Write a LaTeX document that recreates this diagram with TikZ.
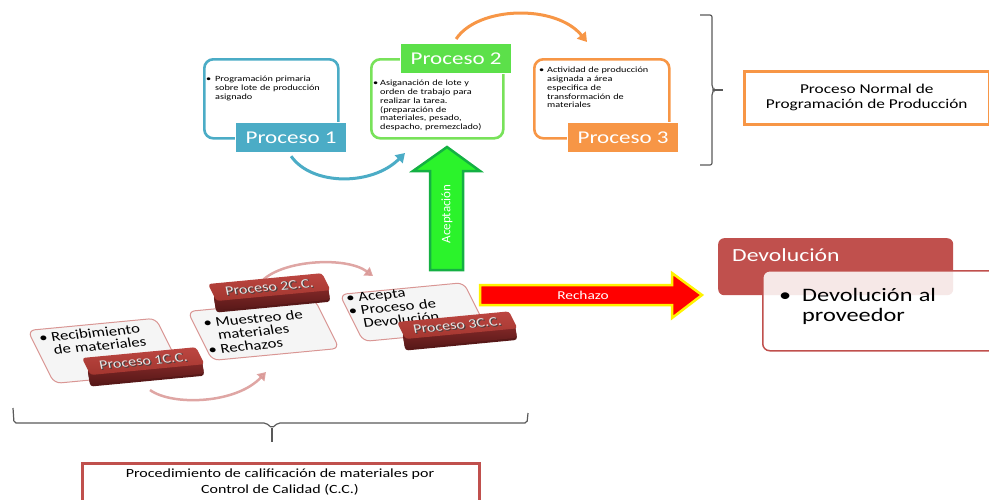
\documentclass[tikz,border=0pt]{standalone}
\usepackage{fontspec}
\setmainfont[FakeStretch=1.28]{Carlito}
\newfontfamily\plainfont{Carlito}
\usetikzlibrary{arrows.meta,calc}

\definecolor{pblue}{HTML}{4BACC6}
\definecolor{pgreen}{HTML}{5CE04A}
\definecolor{pgreenline}{HTML}{78E25A}
\definecolor{porange}{HTML}{F79646}
\definecolor{pred}{HTML}{C0504D}
\definecolor{ppink}{HTML}{D99694}
\definecolor{braceg}{HTML}{595959}
\definecolor{boxgray}{HTML}{F5F5F5}
\definecolor{accfill}{HTML}{2BF32B}
\definecolor{accline}{HTML}{14B043}
\definecolor{blocktop}{HTML}{BC4641}
\definecolor{blocktopb}{HTML}{A3362F}
\definecolor{blockfront}{HTML}{8A2B2A}
\definecolor{blockfrontb}{HTML}{571818}

% bullet paragraph with hanging indent (lines broken with \newline)
\newcommand\bitem[2]{\hangindent=#1\hangafter=1\noindent\makebox[#1][l]{\textbullet}#2\par}

\begin{document}
\begin{tikzpicture}[x=1pt,y=-1pt,
  stageframe/.style={draw, rounded corners=9pt, line width=2.6pt, anchor=north west, inner sep=0},
  stagelabel/.style={draw=white, line width=1.2pt, text=white, inner sep=0,
    minimum width=111pt, minimum height=30pt, anchor=north west,
    font=\fontsize{18}{18}\selectfont},
  smalltext/.style={anchor=north west, inner sep=0, text width=#1,
    font=\fontsize{8}{8.8}\selectfont},
  flow/.style={line width=3pt, -{Triangle[length=9pt,width=11pt]}},
  ccflow/.style={draw=ppink, line width=2.5pt, opacity=0.85, -{Triangle[length=8pt,width=10pt]}},
  ccbox/.style={draw=ppink, fill=boxgray, line width=1pt, rounded corners=7pt,
    anchor=north west, inner sep=0},
  cctext/.style={anchor=north west, inner sep=0, text width=#1,
    font=\fontsize{13}{12.8}\selectfont, xslant=0.3},
  blocktext/.style={inner sep=0, font=\fontsize{12.5}{12.5}\selectfont, xslant=0.3},
  bracepath/.style={draw=braceg, line width=1.2pt, rounded corners=2pt},
  titlebox/.style={draw, line width=2.5pt, inner sep=0, anchor=north west},
]
\useasboundingbox (0,0) rectangle (989,499);
\clip (0,0) rectangle (989,499);

% ---------- normal production process ----------
\node[stageframe, draw=pblue, minimum width=134pt, minimum height=79pt] (f1) at (203,58) {};
\node[smalltext=125pt] (t1) at (206,76)
  {\bitem{9pt}{Programación primaria\newline sobre lote de producción\newline asignado}};
\node[stagelabel, fill=pblue] (l1) at (235,122) {Proceso 1};

\node[stageframe, draw=pgreenline, minimum width=132pt, minimum height=79pt] (f2) at (370,58) {};
\node[smalltext=125pt] (t2) at (373,80)
  {\bitem{7pt}{Asiganación de lote y\newline orden de trabajo para\newline realizar la tarea.\newline (preparación de\newline materiales, pesado,\newline despacho, premezclado)}};
\node[stagelabel, fill=pgreen] (l2) at (400,43) {Proceso 2};

\node[stageframe, draw=porange, minimum width=135pt, minimum height=79pt] (f3) at (533,58) {};
\node[smalltext=125pt] (t3) at (539,67)
  {\bitem{8pt}{Actividad de producción\newline asignada a área\newline especifica de\newline transformación de\newline materiales}};
\node[stagelabel, fill=porange] (l3) at (567,122) {Proceso 3};

\coordinate (a12) at (405,153);
\coordinate (a23) at (587,42);
\draw[flow, draw=pblue] ($(l1.south)+(0,3)$) .. controls (312,186) and (372,186) .. (a12);
\draw[flow, draw=porange] ($(l2.north)+(0,-4)$) .. controls (478,6) and (556,4) .. (a23);

% right brace and its caption
\coordinate (bt) at (723,90);
\path[bracepath] (700,15) -- (712,15) -- (712,87) -- (714,90) -- (712,93) -- (712,165) -- (700,165);
\draw[draw=braceg, line width=1.2pt] (714,90) -- (bt);
\node[titlebox, draw=porange, minimum width=245pt, minimum height=53pt] (normal) at (743,70) {};
\node[align=center, inner sep=0, font=\fontsize{13.5}{15}\selectfont] (normalt) at (normal.center)
  {Proceso Normal de\\Programación de Producción};

% ---------- acceptance / rejection ----------
\path[fill=accfill, draw=accline, line width=2.5pt, line join=miter]
  (447,147) -- (480,171) -- (463,171) -- (463,270) -- (430,270) -- (430,171) -- (413,171) -- cycle;
\node[rotate=90, text=white, inner sep=0, font=\plainfont\fontsize{13}{13}\selectfont] (acc) at (447,214) {Aceptación};

\path[fill=red, draw=yellow, line width=2.5pt, line join=miter]
  (480,285) -- (672,285) -- (672,273) -- (702,295) -- (672,318) -- (672,305) -- (480,305) -- cycle;
\node[text=white, inner sep=0, font=\fontsize{12}{12}\selectfont] (rej) at (583,295) {Rechazo};

% return to supplier
\node[fill=pred, rounded corners=6pt, anchor=north west, minimum width=235pt, minimum height=57pt, inner sep=0] (dev) at (718,238) {};
\node[anchor=west, text=white, inner sep=0, font=\fontsize{18.5}{18.5}\selectfont] (devt) at (732,255) {Devolución};
\node[draw=pred, fill=white, fill opacity=0.87, line width=1.5pt, rounded corners=7pt, anchor=north west,
  minimum width=240pt, minimum height=80pt, inner sep=0] (devb) at (762,270) {};
\node[smalltext=200pt, font=\fontsize{19}{20}\selectfont] (devbt) at (779,288)
  {\bitem{23pt}{Devolución al\newline proveedor}};

% ---------- quality control steps ----------
\coordinate (c12s) at (150,390);
\coordinate (c12e) at (266,372);
\coordinate (c23s) at (262,281);
\coordinate (c23e) at (373,276);
\draw[ccflow] (c12s) .. controls (172,406) and (236,404) .. (c12e);
\draw[ccflow] (c23s) .. controls (282,260) and (346,256) .. (c23e);

\begin{scope}[cm={1,0.095,-0.5,1,(27,330)}, transform shape]
  \node[ccbox, minimum width=128pt, minimum height=53pt] (c1) at (0,0) {};
  \node[cctext=110pt] (c1t) at (9,4) {\bitem{12pt}{Recibimiento\newline de materiales}};
\end{scope}
\begin{scope}[cm={1,0.095,-0.5,1,(82,358)}, transform shape]
  \fill[blockfrontb, rounded corners=3pt] (0,11) -- (114,11) -- (108.3,28) -- (-5.7,28) -- cycle;
  \shade[top color=blockfront, bottom color=blockfrontb, rounded corners=3pt] (0,11) -- (114,11) -- (109,26) -- (-5,26) -- cycle;
  \shade[top color=blocktop, bottom color=blocktopb, rounded corners=3pt] (0,0) rectangle (114,17);
  \node[blocktext, text=black!75] (b1s) at (57.8,9.3) {Proceso 1C.C.};
  \node[blocktext, text=black!10] (b1) at (57,8.5) {Proceso 1C.C.};
\end{scope}

\begin{scope}[cm={1,0.095,-0.5,1,(187,311)}, transform shape]
  \node[ccbox, minimum width=127pt, minimum height=49pt] (c2) at (0,0) {};
  \node[cctext=110pt] (c2t) at (11,8.5) {\bitem{12pt}{Muestreo de\newline materiales}\bitem{12pt}{Rechazos}};
\end{scope}
\begin{scope}[cm={1,0.095,-0.5,1,(208,284)}, transform shape]
  \fill[blockfrontb, rounded corners=3pt] (0,11) -- (114,11) -- (108.3,28) -- (-5.7,28) -- cycle;
  \shade[top color=blockfront, bottom color=blockfrontb, rounded corners=3pt] (0,11) -- (114,11) -- (109,26) -- (-5,26) -- cycle;
  \shade[top color=blocktop, bottom color=blocktopb, rounded corners=3pt] (0,0) rectangle (114,17);
  \node[blocktext, text=black!75] (b2s) at (57.8,9.3) {Proceso 2C.C.};
  \node[blocktext, text=black!10] (b2) at (57,8.5) {Proceso 2C.C.};
\end{scope}

\begin{scope}[cm={1,0.095,-0.5,1,(339,294)}, transform shape]
  \node[ccbox, minimum width=124pt, minimum height=47pt] (c3) at (0,0) {};
  \node[cctext=110pt] (c3t) at (6,0.5) {\bitem{12pt}{Acepta}\bitem{12pt}{Proceso de\newline Devolución}};
\end{scope}
\begin{scope}[cm={1,0.095,-0.5,1,(397,322)}, transform shape]
  \fill[blockfrontb, rounded corners=3pt] (0,11) -- (112,11) -- (106.3,28) -- (-5.7,28) -- cycle;
  \shade[top color=blockfront, bottom color=blockfrontb, rounded corners=3pt] (0,11) -- (112,11) -- (107,26) -- (-5,26) -- cycle;
  \shade[top color=blocktop, bottom color=blocktopb, rounded corners=3pt] (0,0) rectangle (112,17);
  \node[blocktext, text=black!75] (b3s) at (56.8,9.3) {Proceso 3C.C.};
  \node[blocktext, text=black!10] (b3) at (56,8.5) {Proceso 3C.C.};
\end{scope}

% bottom brace and its caption
\coordinate (bb) at (272,442);
\path[bracepath] (13,408) -- (14,423) -- (266,423) -- (272,428) -- (278,423) -- (527,423) -- (528,413);
\draw[draw=braceg, line width=1.2pt] (272,428) -- (bb);
\node[titlebox, draw=pred, minimum width=397pt, minimum height=60pt] (cc) at (81,462) {};
\node[align=center, inner sep=0, font=\fontsize{12.5}{15.5}\selectfont, anchor=north] (cct) at (280,469)
  {Procedimiento de calificación de materiales por\\Control de Calidad (C.C.)};
\end{tikzpicture}
\end{document}
